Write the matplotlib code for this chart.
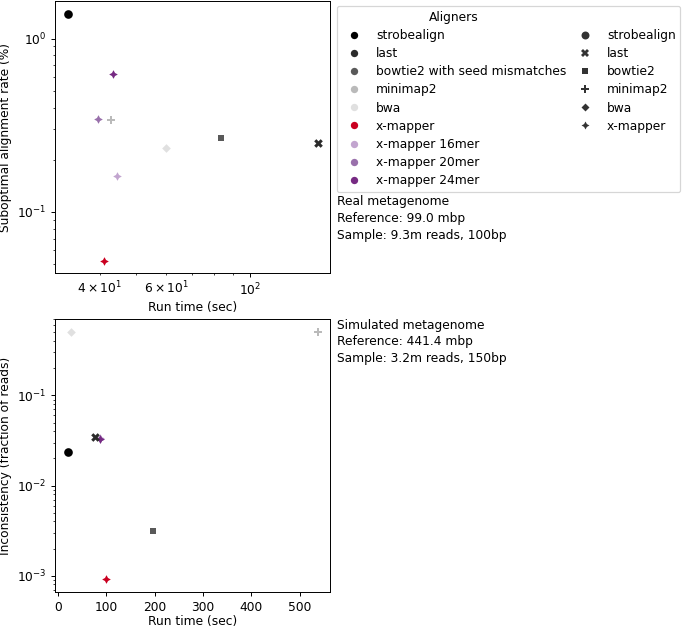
# Aligner comparison: run time vs suboptimal rate / inconsistency
import matplotlib
matplotlib.use("Agg")
import matplotlib.pyplot as plt
from matplotlib.lines import Line2D

# ---------------------------------
# Data
# ---------------------------------
aligners = ['strobealign', 'last', 'bowtie2 with seed mismatches', 'minimap2', 'bwa',
            'x-mapper', 'x-mapper 16mer', 'x-mapper 20mer', 'x-mapper 24mer']
hue_colors = ['#000000', '#2b2b2b', '#595959', '#bababa', '#e0e0e0',
              '#ca0020', '#c2a5cf', '#9970ab', '#762a83']

styles = ['strobealign', 'last', 'bowtie2', 'minimap2', 'bwa', 'x-mapper']
style_markers = ['o', 'X', (4, 0, 45), 'P', (4, 0, 0), (4, 1, 0)]

# real metagenome
real_aligner = ['strobealign', 'x-mapper 24mer', 'x-mapper 20mer', 'minimap2', 'bwa',
                'bowtie2 with seed mismatches', 'last', 'x-mapper 16mer', 'x-mapper']
real_style = ['strobealign', 'x-mapper', 'x-mapper', 'minimap2', 'bwa',
              'bowtie2', 'last', 'x-mapper', 'x-mapper']
real_time = [33.0, 43.4, 39.7, 43.0, 59.9, 83.5, 151.5, 44.6, 41.2]
real_subopt = [1.39, 0.624, 0.344, 0.340, 0.233, 0.266, 0.249, 0.161, 0.0521]

# simulated metagenome
sim_aligner = ['bwa', 'minimap2', 'x-mapper 16mer', 'x-mapper 20mer', 'x-mapper 24mer',
               'last', 'strobealign', 'bowtie2 with seed mismatches', 'x-mapper']
sim_style = ['bwa', 'minimap2', 'x-mapper', 'x-mapper', 'x-mapper',
             'last', 'strobealign', 'bowtie2', 'x-mapper']
sim_time = [26.3, 537.0, 86.0, 87.0, 87.5, 76.6, 19.5, 196.7, 100.2]
sim_incons = [0.509, 0.51, 0.0335, 0.0333, 0.0332, 0.0343, 0.0237, 0.00313, 0.00092]

color_of = dict(zip(aligners, hue_colors))
marker_of = dict(zip(styles, style_markers))

# ---------------------------------
# Figure (drawn at 88 dpi so fonts match the reference scale)
# ---------------------------------
W, H = 685, 629
DPI = 88
fig = plt.figure(figsize=(W / DPI, H / DPI), dpi=DPI)
ax1 = fig.add_axes([55 / W, 1 - 273 / H, 275 / W, 272 / H])
ax2 = fig.add_axes([55 / W, 1 - 592 / H, 275 / W, 273 / H])


def draw(ax, names, sty, xs, ys):
    for n, s, x, y in zip(names, sty, xs, ys):
        ax.scatter(x, y, s=50, color=color_of[n], marker=marker_of[s], linewidth=0)


draw(ax1, real_aligner, real_style, real_time, real_subopt)
ax1.set_xscale('log')
ax1.set_yscale('log')
ax1.set_xlim(30.5, 162.5)
ax1.set_ylim(0.0444, 1.647)
ax1.set_xlabel('Run time (sec)', labelpad=2)
ax1.set_ylabel('Suboptimal alignment rate (%)')

draw(ax2, sim_aligner, sim_style, sim_time, sim_incons)
ax2.set_yscale('log')
ax2.set_ylim(6.6e-4, 0.705)
ax2.set_xlabel('Run time (sec)', labelpad=1)
ax2.set_ylabel('Inconsistency (fraction of reads)')

# legend: hue entries in first column, style entries in second
blank = Line2D([], [], linestyle='none', marker=None)
handles = [blank]
labels = ['Aligners']
for a, c in zip(aligners, hue_colors):
    handles.append(Line2D([], [], linestyle='none', marker='o', markersize=6,
                          color=c, markeredgewidth=0))
    labels.append(a)
handles.append(blank)
labels.append(' ')
for s, m in zip(styles, style_markers):
    handles.append(Line2D([], [], linestyle='none', marker=m, markersize=6.5,
                          color='#333333', markeredgewidth=0))
    labels.append(s)
for i in range(3):
    handles.append(blank)
    labels.append(' ')

leg = fig.legend(handles, labels, ncol=2, loc='upper left',
                 bbox_to_anchor=(337 / W, 1 - 6 / H), borderaxespad=0,
                 labelspacing=0.42, columnspacing=0.5)
leg.get_texts()[0].set_x(53)

fig.text(337 / W, 1 - 195 / H, 'Real metagenome\nReference: 99.0 mbp\nSample: 9.3m reads, 100bp',
         va='top', ha='left', linespacing=1.42)
fig.text(337 / W, 1 - 319 / H, 'Simulated metagenome\nReference: 441.4 mbp\nSample: 3.2m reads, 150bp',
         va='top', ha='left', linespacing=1.35)

fig.savefig('out.png', dpi=DPI)
